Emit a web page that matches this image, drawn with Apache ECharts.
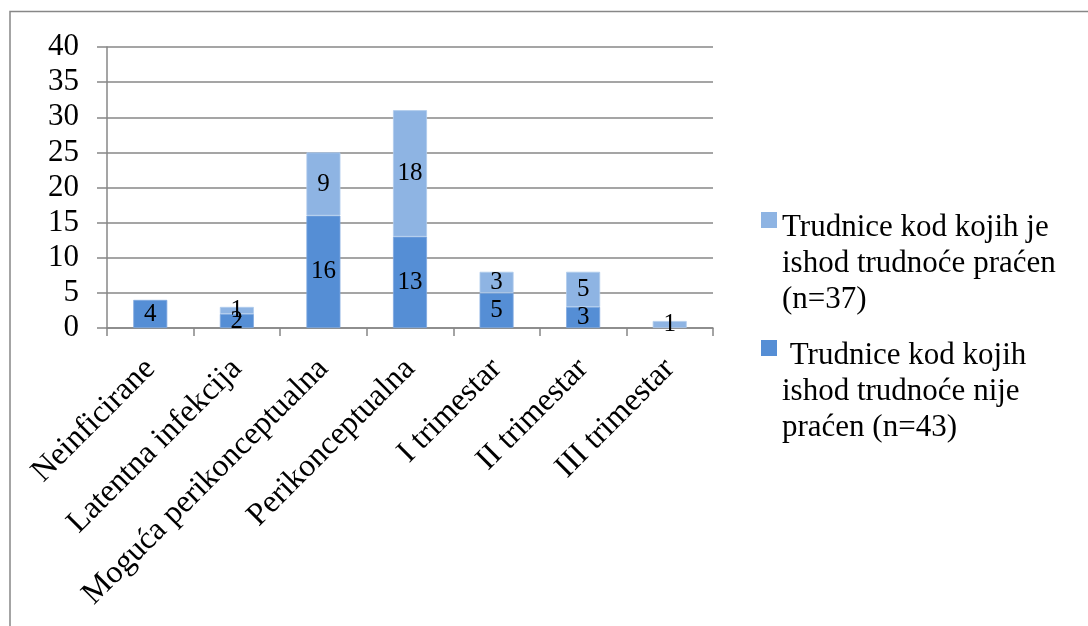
<!DOCTYPE html>
<html>
<head>
<meta charset="utf-8">
<script src="https://cdn.jsdelivr.net/npm/echarts@6/dist/echarts.min.js"></script>
<style>
html,body{margin:0;padding:0;background:#fff;}
#chart{width:1088px;height:626px;}
</style>
</head>
<body>
<div id="chart"></div>
<script>
const categories = ['Neinficirane','Latentna infekcija','Moguća perikonceptualna','Perikonceptualna','I trimestar','II trimestar','III trimestar'];
const notFollowed = [4, 2, 16, 13, 5, 3, null];
const followed = [null, 1, 9, 18, 3, 5, 1];
const seriesNames = ['Trudnice kod kojih je ishod trudnoće praćen (n=37)', ' Trudnice kod kojih ishod trudnoće nije praćen (n=43)'];
const legendLines = [
  ['Trudnice kod kojih je', 'ishod trudnoće praćen', '(n=37)'],
  [' Trudnice kod kojih', 'ishod trudnoće nije', 'praćen (n=43)']
];
const yTicks = {min: 0, max: 40, interval: 5};

const FONT = '"Liberation Serif", "Times New Roman", serif';
const GRAY = '#878787';
const chart = echarts.init(document.getElementById('chart'));
const iconPath = 'path://M0 2h16v16h-16z M0 0h0.01v0.01h-0.01z M0 108h0.01v0.01h-0.01z';

chart.setOption({
  animation: false,
  graphic: [{
    type: 'rect',
    shape: {x: 10, y: 11.5, width: 1200, height: 800},
    style: {fill: 'none', stroke: GRAY, lineWidth: 1.5},
    silent: true
  }],
  grid: {left: 107, right: 375, top: 47, bottom: 298, containLabel: false},
  legend: {
    orient: 'vertical',
    left: 761, top: 210, padding: 0,
    itemWidth: 16, itemHeight: 108, itemGap: 20,
    symbolKeepAspect: false,
    icon: iconPath,
    itemStyle: {borderWidth: 0},
    data: [seriesNames[0], seriesNames[1]],
    formatter: function (name) {
      const i = seriesNames.indexOf(name);
      return legendLines[i].join('\n');
    },
    textStyle: {fontFamily: FONT, fontSize: 31, lineHeight: 36, color: '#000'},
    selectedMode: false
  },
  xAxis: {
    type: 'category',
    data: categories,
    axisLine: {lineStyle: {color: GRAY, width: 1.5}},
    axisTick: {show: true, length: 8, lineStyle: {color: GRAY, width: 1.5}},
    axisLabel: {rotate: 45, margin: 36, fontFamily: FONT, fontSize: 32, color: '#000', interval: 0}
  },
  yAxis: {
    type: 'value',
    min: yTicks.min, max: yTicks.max, interval: yTicks.interval,
    axisLine: {show: true, lineStyle: {color: GRAY, width: 1.5}},
    axisTick: {show: true, length: 10, lineStyle: {color: GRAY, width: 1.5}},
    splitLine: {show: true, lineStyle: {color: GRAY, width: 1.5}},
    axisLabel: {margin: 28, fontFamily: FONT, fontSize: 31, color: '#000'}
  },
  series: [
    {
      name: seriesNames[1], type: 'bar', stack: 'total', data: notFollowed,
      barWidth: 34,
      itemStyle: {color: '#558ED5', borderColor: '#7FA8E0', borderWidth: 0.8},
      label: {show: true, position: 'inside', fontFamily: FONT, fontSize: 25, color: '#000'}
    },
    {
      name: seriesNames[0], type: 'bar', stack: 'total', data: followed,
      barWidth: 34,
      itemStyle: {color: '#8EB4E3', borderColor: '#B0CBEC', borderWidth: 0.8},
      label: {show: true, position: 'inside', fontFamily: FONT, fontSize: 25, color: '#000'}
    }
  ]
});
</script>
</body>
</html>
